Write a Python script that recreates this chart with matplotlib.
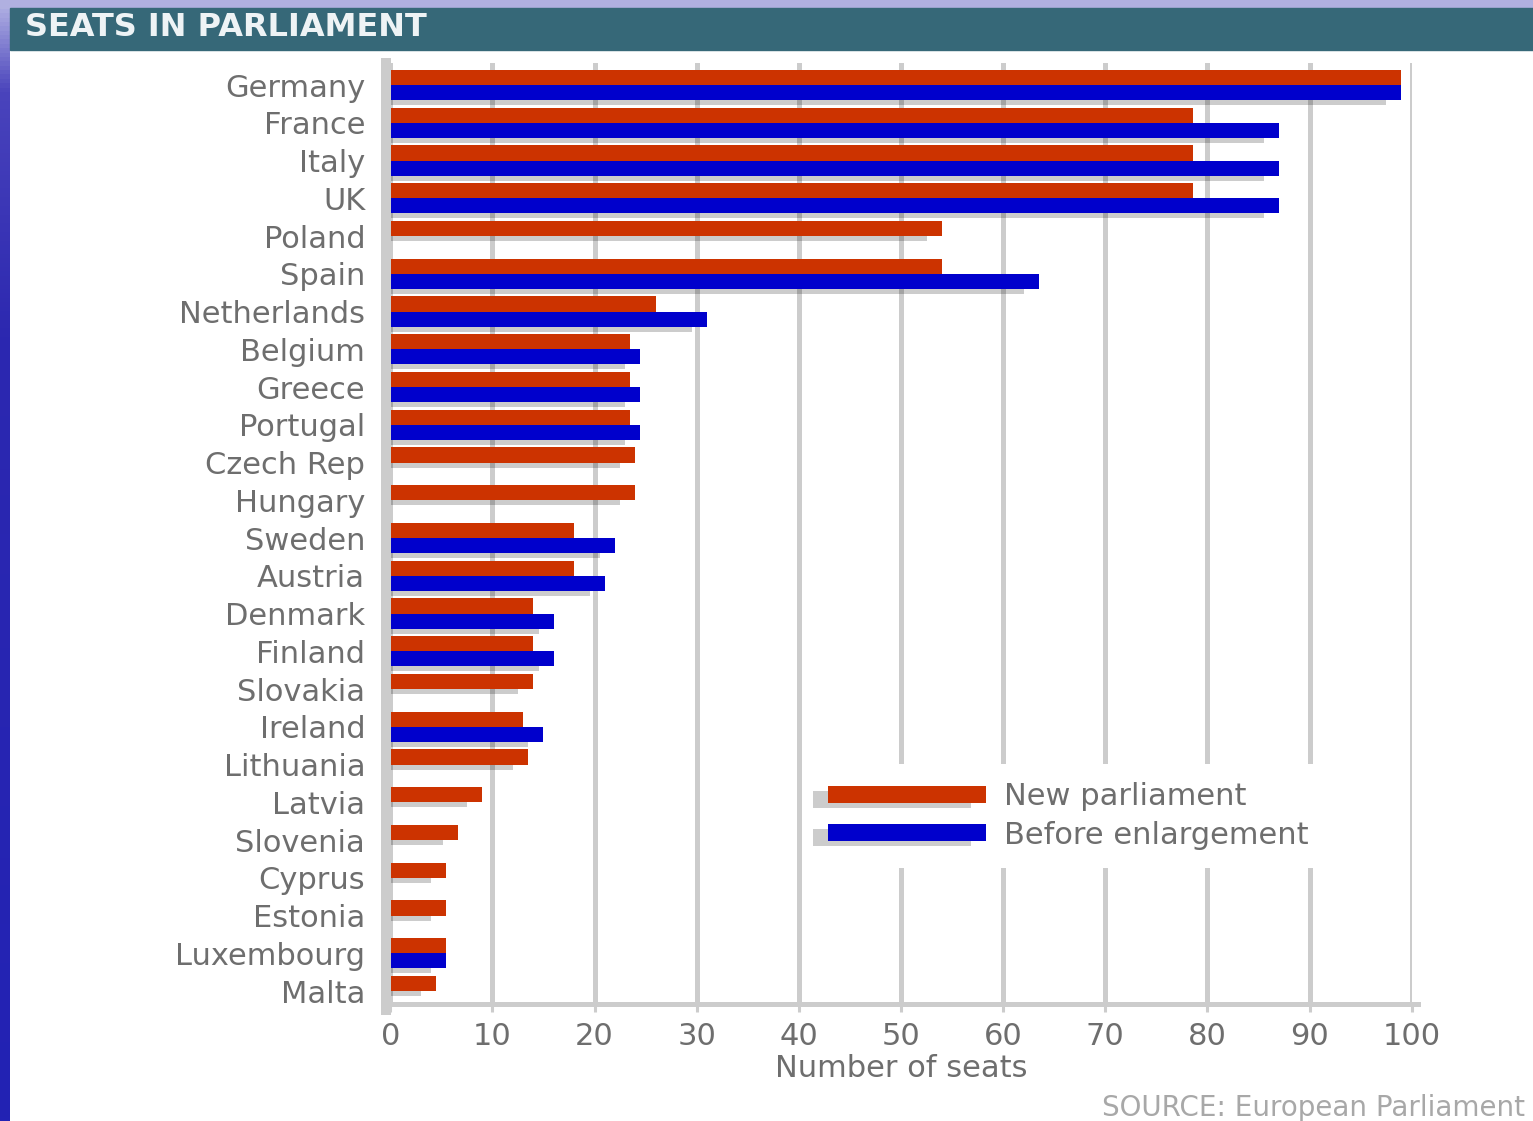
import numpy as np
import matplotlib.pyplot as plt
from matplotlib import patheffects as pe
from matplotlib.patches import Rectangle
from matplotlib.colors import LinearSegmentedColormap

countries = ["Germany", "France", "Italy", "UK", "Poland", "Spain", "Netherlands",
             "Belgium", "Greece", "Portugal", "Czech Rep", "Hungary", "Sweden",
             "Austria", "Denmark", "Finland", "Slovakia", "Ireland", "Lithuania",
             "Latvia", "Slovenia", "Cyprus", "Estonia", "Luxembourg", "Malta"]
# seats (0 = no bar before enlargement)
new_seats = [99, 78.6, 78.6, 78.6, 54, 54, 26, 23.5, 23.5, 23.5, 24, 24, 18,
             18, 14, 14, 14, 13, 13.5, 9, 6.6, 5.5, 5.5, 5.5, 4.5]
before_seats = [99, 87, 87, 87, 0, 63.5, 31, 24.5, 24.5, 24.5, 0, 0, 22,
                21, 16, 16, 0, 15, 0, 0, 0, 0, 0, 5.5, 0]
x_ticks = list(range(0, 101, 10))

RED = '#cc3300'
BLUE = '#0000cc'
GREY = '#cccccc'
TEXT = '#6e6e6e'

W, H = 1533, 1121
fig = plt.figure(figsize=(W / 100, H / 100), dpi=100)

# slide background bits: lavender strip on top, blue strip on the left, teal banner
bg = fig.add_axes([0, 0, 1, 1])
bg.axis('off')
cmap = LinearSegmentedColormap.from_list('slide', [(0, '#b4b4e4'), (0.08, '#4a44bc'),
                                                  (0.3, '#2c28b0'), (1, '#2222b4')])
bg.imshow(np.linspace(0, 1, 256).reshape(-1, 1), cmap=cmap, extent=(0, 10, H, 0), aspect='auto')
bg.add_patch(Rectangle((0, 0), W, 8, color='#b0b0e0'))
bg.add_patch(Rectangle((10, 8), W - 10, 42, color='#366878'))
bg.set_xlim(0, W)
bg.set_ylim(H, 0)
fig.text(25 / W, 1 - 28 / H, 'SEATS IN PARLIAMENT', color='#eef3f5',
         fontsize=23, fontweight='bold', va='center', ha='left')

ax = fig.add_axes([390.2 / W, (H - 1003.5) / H, 1021.5 / W, (1003.5 - 63) / H])
ax.set_facecolor('white')

shadow = [pe.SimplePatchShadow(offset=(-10.8, -3.6), shadow_rgbFace='black', alpha=0.2),
          pe.Normal()]

y = np.arange(len(countries))
new_arr = np.array(new_seats)
before_arr = np.array(before_seats)
has_before = before_arr > 0

bars_new = ax.barh(y - 0.2, new_arr, height=0.4, color=RED, path_effects=shadow)
bars_before = ax.barh(y[has_before] + 0.2, before_arr[has_before], height=0.4,
                      color=BLUE, path_effects=shadow)

ax.set_xlim(0, 100)
ax.set_ylim(24.33, -0.583)
ax.set_xticks(x_ticks)
ax.set_yticks(y, countries)

ax.grid(axis='x', color=GREY, linewidth=3.6)
ax.set_axisbelow(True)
for s in ['top', 'right']:
    ax.spines[s].set_visible(False)
ax.spines['left'].set_color(GREY)
ax.spines['left'].set_linewidth(7.2)
ax.spines['left'].set_position(('outward', 3))
ax.spines['left'].set_bounds(-0.583, 24.5)
ax.spines['bottom'].set_color(GREY)
ax.spines['bottom'].set_linewidth(3.6)
ax.spines['bottom'].set_bounds(-0.3, 100.6)

ax.tick_params(axis='y', length=0, pad=15, labelsize=22, labelcolor=TEXT)
ax.tick_params(axis='x', length=5.5, width=2.2, color=GREY, pad=8,
               labelsize=22, labelcolor=TEXT)
ax.set_xlabel('Number of seats', fontsize=22, color=TEXT, labelpad=2)

leg = ax.legend([bars_new, bars_before], ['New parliament', 'Before enlargement'],
                loc='upper left', bbox_to_anchor=(810 / W, 1 - 764 / H),
                bbox_transform=fig.transFigure, borderaxespad=0, borderpad=0.6,
                fontsize=22, labelcolor=TEXT, handlelength=5.15, handleheight=0.49,
                handletextpad=0.6, labelspacing=0.3, frameon=True, fancybox=False,
                framealpha=1)
leg.get_frame().set_facecolor('white')
leg.get_frame().set_edgecolor('none')

fig.text(1525 / W, 1 - 1108 / H, 'SOURCE: European Parliament', color='#a8a8a8',
         fontsize=20, ha='right', va='center')

fig.savefig('out.png', dpi=100)
